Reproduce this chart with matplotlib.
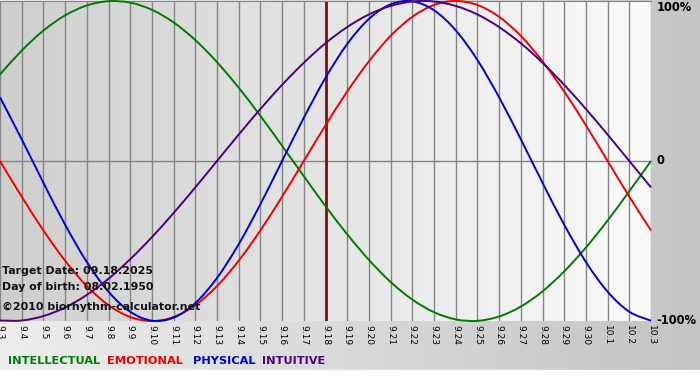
import numpy as np
from matplotlib import pyplot as plt
from matplotlib.path import Path
from matplotlib.patches import PathPatch

# day labels from 9.3 to 10.3
day_labels = ['9.%d' % d for d in range(3, 31)] + ['10.1', '10.2', '10.3']

# values, -1..1
physical = [0.398, 0.136, -0.136, -0.398, -0.631, -0.817, -0.942, -0.998, -0.979, -0.888,
            -0.731, -0.520, -0.270, 0.000, 0.270, 0.520, 0.731, 0.888, 0.979, 0.998,
            0.942, 0.817, 0.631, 0.398, 0.136, -0.136, -0.398, -0.631, -0.817, -0.942, -0.998]
emotional = [0.000, -0.223, -0.434, -0.623, -0.782, -0.901, -0.975, -1.000, -0.975, -0.901,
             -0.782, -0.623, -0.434, -0.223, 0.000, 0.223, 0.434, 0.623, 0.782, 0.901,
             0.975, 1.000, 0.975, 0.901, 0.782, 0.623, 0.434, 0.223, 0.000, -0.223, -0.434]
intellectual = [0.541, 0.690, 0.815, 0.910, 0.972, 0.999, 0.990, 0.945, 0.866, 0.756,
                0.618, 0.458, 0.282, 0.095, -0.095, -0.282, -0.458, -0.618, -0.756, -0.866,
                -0.945, -0.990, -0.999, -0.972, -0.910, -0.815, -0.690, -0.541, -0.372, -0.189, 0.000]
intuitive = [-0.997, -0.997, -0.969, -0.916, -0.837, -0.736, -0.614, -0.476, -0.325, -0.165,
             0.000, 0.165, 0.325, 0.476, 0.614, 0.736, 0.837, 0.916, 0.969, 0.997,
             0.997, 0.969, 0.916, 0.837, 0.736, 0.614, 0.476, 0.325, 0.165, 0.000, -0.165]
target_index = 15  # 9.18

series = [
    ('INTELLECTUAL', intellectual, '#007a00'),
    ('EMOTIONAL', emotional, '#ee0000'),
    ('PHYSICAL', physical, '#0000cc'),
    ('INTUITIVE', intuitive, '#4b0082'),
]
legend_x = [8, 107, 193, 262]


def smooth_path(xs, ys):
    # catmull-rom curve through the points, drawn as cubic beziers
    pts = np.column_stack([xs, ys]).astype(float)
    ext = np.vstack([pts[0], pts, pts[-1]])
    verts = [pts[0]]
    codes = [Path.MOVETO]
    for k in range(len(pts) - 1):
        p0, p1, p2, p3 = ext[k], ext[k + 1], ext[k + 2], ext[k + 3]
        verts += [p1 + (p2 - p0) / 6, p2 - (p3 - p1) / 6, p2]
        codes += [Path.CURVE4] * 3
    return Path(verts, codes)


W, H = 700, 380
fig = plt.figure(figsize=(W / 100, H / 100), dpi=100)

# outer background gradient
bg = fig.add_axes([0, 0, 1, 1])
bg.set_axis_off()
grad = np.linspace(0.93, 0.77, 256)[None, :]
bg.imshow(np.dstack([grad] * 3), extent=[0, 1, 0, 1], aspect='auto')
bg.axhspan(0, 10 / H, color='white')
bg.set_xlim(0, 1)
bg.set_ylim(0, 1)

x = np.arange(len(day_labels))
ax = fig.add_axes([0, 1 - 321 / H, 651 / W, 320 / H])
ax.set_xlim(0, len(day_labels) - 1)
ax.set_ylim(-1, 1)
inner = np.linspace(0.81, 0.985, 256)[None, :]
ax.imshow(np.dstack([inner] * 3), extent=[0, 30, -1, 1], aspect='auto', zorder=0)

for i in x:
    ax.axvline(i, color='#858585', lw=1.0, zorder=1)
ax.axhline(0, color='#858585', lw=1.0, zorder=1)
ax.axvline(target_index, color='#7a1010', lw=2.0, zorder=2)

for name, vals, col in series:
    ax.add_patch(PathPatch(smooth_path(x, vals), fill=False, edgecolor=col,
                           lw=1.4, zorder=3, clip_on=False))

for s in ax.spines.values():
    s.set_visible(False)
ax.spines['top'].set_visible(True)
ax.spines['top'].set_color('#858585')

ax.set_xticks(x)
ax.set_xticklabels(day_labels, rotation=270, fontsize=6.5)
ax.tick_params(axis='x', length=0, pad=3)
ax.set_yticks([])

# right side percent labels
for yv, lab in [(1, '100%'), (0, '0'), (-1, '-100%')]:
    ax.annotate(lab, (30, yv), xytext=(4, 0), textcoords='offset points',
                ha='left', va='top' if yv == 1 else 'center', fontsize=8.3,
                fontweight='bold', annotation_clip=False)

# info text
info = dict(fontsize=7.9, fontweight='bold', color='#111111', zorder=5)
fig.text(2 / W, 1 - 271 / H, 'Target Date: 09.18.2025', va='center', **info)
fig.text(2 / W, 1 - 287 / H, 'Day of birth: 08.02.1950', va='center', **info)
fig.text(2 / W, 1 - 307 / H, '\u00a92010 biorhythm-calculator.net', va='center', **info)

# legend row
for (name, vals, col), lx in zip(series, legend_x):
    fig.text(lx / W, 1 - 361 / H, name, color=col, fontsize=8.2,
             fontweight='bold', va='center', ha='left')

fig.savefig('out.png', dpi=100)
